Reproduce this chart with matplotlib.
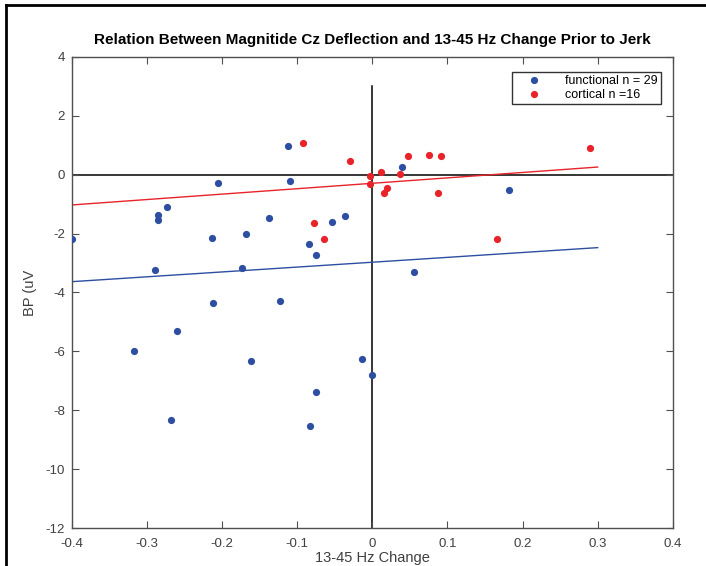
import numpy as np
import matplotlib
matplotlib.use('Agg')
import matplotlib.pyplot as plt
from matplotlib.lines import Line2D

plt.rcParams['font.family'] = ['Liberation Sans', 'DejaVu Sans']
plt.rcParams['axes.unicode_minus'] = False

# functional group (blue)
func_x = [-0.400, -0.113, -0.206, -0.110, -0.274, -0.285, -0.286, -0.138, -0.036, -0.054,
          -0.214, -0.168, -0.085, -0.075, -0.290, -0.174, -0.212, -0.123, -0.260,
          -0.317, -0.161, -0.014, 0.000, -0.075, -0.268, -0.083,
          0.040, 0.182, 0.056]
func_y = [-2.17, 0.98, -0.30, -0.21, -1.10, -1.38, -1.55, -1.46, -1.42, -1.62,
          -2.14, -2.00, -2.37, -2.74, -3.24, -3.16, -4.37, -4.30, -5.30,
          -5.99, -6.33, -6.25, -6.81, -7.36, -8.34, -8.53,
          0.26, -0.52, -3.32]

# cortical group (red)
cort_x = [-0.092, -0.030, -0.078, -0.065, -0.003, -0.003, 0.011, 0.016,
          0.020, 0.037, 0.047, 0.076, 0.092, 0.087, 0.166, 0.290]
cort_y = [1.07, 0.45, -1.65, -2.18, -0.04, -0.31, 0.09, -0.62,
          -0.47, 0.01, 0.62, 0.65, 0.64, -0.64, -2.19, 0.90]

xtick_labels = ['-0.4', '-0.3', '-0.2', '-0.1', '0', '0.1', '0.2', '0.3', '0.4']

blue = '#2e4ea1'
red = '#e8242a'
gray = '#505050'
txt = '#404040'

def fit_line(x, y):
    p = np.polyfit(x, y, 1)
    xs = np.array([-0.4, 0.3])
    return xs, np.polyval(p, xs)

fig = plt.figure(figsize=(7.06, 5.66), dpi=100)
ax = fig.add_axes([72/706, 1-528.3/566, (672.7-72)/706, (528.3-56.7)/566])

ax.axhline(0, color='k', lw=1.1, zorder=1)
ax.plot([0, 0], [-12, 3], color='k', lw=1.1, zorder=1)

xs, ys = fit_line(func_x, func_y)
ax.plot(xs, ys, color=blue, lw=1.0, zorder=2)
xs, ys = fit_line(cort_x, cort_y)
ax.plot(xs, ys, color=red, lw=1.0, zorder=2)

ax.plot(func_x, func_y, 'o', color=blue, ms=5.2, mec='none', label='functional n = 29', zorder=3)
ax.plot(cort_x, cort_y, 'o', color=red, ms=5.2, mec='none', label='cortical n =16', zorder=3)

ax.set_xlim(-0.4, 0.4)
ax.set_ylim(-12, 4)
ax.set_xticks(np.linspace(-0.4, 0.4, 9))
ax.set_xticklabels(xtick_labels)
ax.set_yticks(np.arange(-12, 5, 2))
ax.tick_params(direction='in', top=True, right=True, length=5, width=0.8,
               color=gray, labelcolor=txt, labelsize=9.5)
ax.tick_params(axis='x', pad=7)
ax.tick_params(axis='y', pad=5)
for s in ax.spines.values():
    s.set_color(gray)
    s.set_linewidth(1.0)

ax.set_xlabel('13-45 Hz Change', fontsize=10.5, color=txt, labelpad=1)
ax.set_ylabel('BP (uV', fontsize=10.5, color=txt, labelpad=6)
ax.set_title('Relation Between Magnitide Cz Deflection and 13-45 Hz Change Prior to Jerk',
             fontsize=11, fontweight='bold', pad=9)

leg = ax.legend(loc='upper right', fontsize=9, frameon=True, fancybox=False,
                borderpad=0.25, labelspacing=0.15, handletextpad=1.0, handlelength=3.0,
                bbox_to_anchor=(0.98, 0.967), borderaxespad=0)
leg.get_frame().set_edgecolor('k')
leg.get_frame().set_linewidth(1.0)

# figure frame (left and top edges)
fig.add_artist(Line2D([6/706, 6/706], [0, 1-5/566], color='k', lw=2, transform=fig.transFigure))
fig.add_artist(Line2D([6/706, 1], [1-5/566, 1-5/566], color='k', lw=2, transform=fig.transFigure))

fig.savefig('out.png', dpi=100)
